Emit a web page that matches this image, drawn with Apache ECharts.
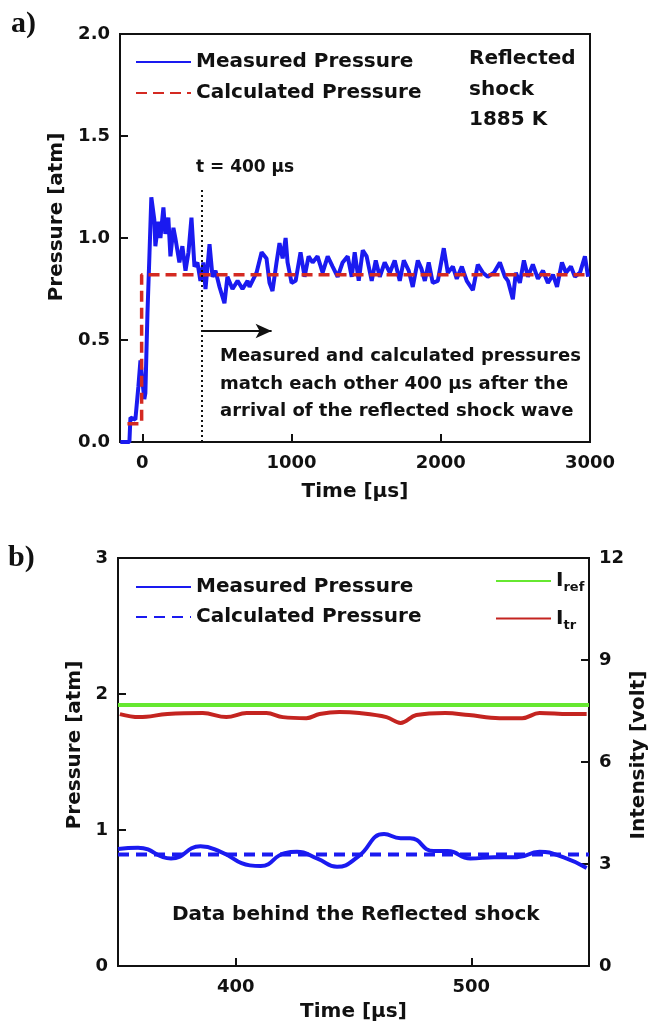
<!DOCTYPE html>
<html><head><meta charset="utf-8">
<script src="https://cdn.jsdelivr.net/npm/echarts@6/dist/echarts.min.js"></script>
<style>html,body{margin:0;padding:0;background:#fff}#c{width:651px;height:1030px}</style>
</head><body><div id="c"></div>
<script>
// ---------- Panel a) data ----------
const aTime = [-148,-87,-80,-47,-27,-13,0,13,20,34,47,60,80,87,107,121,141,154,174,188,208,221,248,268,289,309,329,349,369,389,409,423,450,470,490,517,550,570,604,638,671,705,718,765,799,832,852,872,899,919,940,960,973,1000,1027,1060,1087,1114,1141,1174,1208,1242,1275,1309,1342,1376,1403,1423,1450,1477,1503,1537,1564,1591,1624,1658,1691,1725,1752,1785,1812,1846,1870,1893,1919,1946,1980,2020,2047,2081,2107,2141,2174,2215,2248,2282,2315,2356,2396,2430,2450,2483,2503,2530,2557,2584,2617,2651,2685,2718,2752,2779,2812,2839,2872,2899,2933,2966,2987];
const aMeasured = [0.0,0.0,0.12,0.11,0.27,0.40,0.30,0.21,0.24,0.63,0.91,1.20,1.09,0.96,1.08,1.00,1.15,1.02,1.10,0.91,1.05,1.00,0.88,0.96,0.84,0.93,1.10,0.86,0.88,0.79,0.88,0.75,0.97,0.81,0.84,0.76,0.68,0.81,0.75,0.79,0.75,0.79,0.76,0.83,0.93,0.90,0.78,0.74,0.88,0.975,0.90,1.00,0.88,0.78,0.79,0.93,0.81,0.91,0.88,0.91,0.83,0.91,0.86,0.81,0.88,0.91,0.81,0.93,0.79,0.94,0.91,0.79,0.89,0.81,0.88,0.83,0.89,0.79,0.89,0.84,0.76,0.89,0.85,0.79,0.88,0.78,0.79,0.95,0.83,0.86,0.80,0.86,0.79,0.745,0.87,0.83,0.81,0.83,0.88,0.81,0.79,0.70,0.83,0.78,0.89,0.81,0.87,0.80,0.84,0.78,0.82,0.76,0.88,0.83,0.86,0.81,0.83,0.91,0.81];
const aCalcTime = [-100,-5,-5,3000];
const aCalc = [0.09,0.09,0.82,0.82];
const aXTicks = [0,1000,2000,3000];
const aMarkT = 400, aMarkTop = 1.245, aArrowEnd = 866, aArrowP = 0.544;

// ---------- Panel b) data ----------
const bTime = [350,358.5,372.5,385,393.6,406,410.6,420.8,426,434.7,443,451.7,463,470,474,484,490,499.6,509.7,519.5,529,539,549];
const bMeasured = [0.86,0.87,0.79,0.88,0.84,0.74,0.735,0.83,0.84,0.79,0.73,0.80,0.97,0.94,0.94,0.845,0.845,0.79,0.80,0.80,0.84,0.80,0.72];
const bCalcTime = [350,550];
const bCalc = [0.82,0.82];
const bRefTime = [350,550];
const bRef = [7.68,7.68];
const bTrTime = [350.8,359,371,386,396,404.7,413,420,430,435.6,444,452.5,464,470,476.7,489,499,512,521.6,529,541.5,549];
const bTr = [7.41,7.32,7.41,7.44,7.32,7.44,7.44,7.32,7.29,7.41,7.47,7.44,7.32,7.15,7.38,7.44,7.38,7.29,7.29,7.44,7.41,7.41];
const bXTicks = [400,500];

const zip = (t, v) => t.map((x, i) => [x, v[i]]);
const F = '"DejaVu Sans", Verdana, sans-serif';
const lab = {fontFamily: F, fontWeight: 'bold', fontSize: 18, color: '#111'};
const nm = {fontFamily: F, fontWeight: 'bold', fontSize: 20, color: '#111'};
const nmPad = p => Object.assign({padding: [0, 0, 0, p]}, nm);
const tick = {show: true, inside: true, length: 8, lineStyle: {color: '#111', width: 2}};
const noLine = {show: false, onZero: false};
const BLUE = '#1a1af0', RED = '#d42a22';

const chart = echarts.init(document.getElementById('c'), null, {renderer: 'canvas'});
chart.setOption({
  animation: false,
  backgroundColor: '#fff',
  grid: [
    {left: 120, top: 34, width: 470, height: 408, show: true, borderColor: '#111', borderWidth: 2, outerBoundsMode: 'none', containLabel: false},
    {left: 118, top: 558, width: 471, height: 408, show: true, borderColor: '#111', borderWidth: 2, outerBoundsMode: 'none', containLabel: false}
  ],
  xAxis: [
    {type: 'value', gridIndex: 0, min: -150, max: 3000,
     axisLine: noLine, splitLine: {show: false},
     axisTick: Object.assign({customValues: aXTicks}, tick),
     axisLabel: Object.assign({customValues: aXTicks, margin: 12, formatter: v => String(v)}, lab),
     name: 'Time [μs]', nameLocation: 'middle', nameGap: 40, nameTextStyle: nm},
    {type: 'value', gridIndex: 1, min: 350, max: 550,
     axisLine: noLine, splitLine: {show: false},
     axisTick: Object.assign({customValues: bXTicks}, tick),
     axisLabel: Object.assign({customValues: bXTicks, margin: 12, formatter: v => String(v)}, lab),
     name: 'Time [μs]', nameLocation: 'middle', nameGap: 36, nameTextStyle: nm}
  ],
  yAxis: [
    {type: 'value', gridIndex: 0, min: 0, max: 2, interval: 0.5,
     axisLine: noLine, splitLine: {show: false}, axisTick: tick,
     axisLabel: Object.assign({margin: 10, formatter: v => v.toFixed(1)}, lab),
     name: 'Pressure [atm]', nameLocation: 'middle', nameGap: 50, nameTextStyle: nmPad(42)},
    {type: 'value', gridIndex: 1, min: 0, max: 3, interval: 1,
     axisLine: noLine, splitLine: {show: false}, axisTick: tick,
     axisLabel: Object.assign({margin: 10}, lab),
     name: 'Pressure [atm]', nameLocation: 'middle', nameGap: 30, nameTextStyle: nmPad(34)},
    {type: 'value', gridIndex: 1, min: 0, max: 12, interval: 3, position: 'right',
     axisLine: noLine, splitLine: {show: false}, axisTick: tick,
     axisLabel: Object.assign({margin: 10}, lab),
     name: 'Intensity [volt]', nameLocation: 'middle', nameGap: 40, nameMoveOverlap: false, nameTextStyle: nmPad(14)}
  ],
  legend: [
    {orient: 'vertical', left: 130, top: 46, itemWidth: 55, itemHeight: 14, itemGap: 9,
     data: ['Measured Pressure', 'Calculated Pressure'], textStyle: Object.assign({lineHeight: 22}, nm),
     itemStyle: {opacity: 0}, selectedMode: false},
    {orient: 'vertical', left: 130, top: 571, itemWidth: 55, itemHeight: 14, itemGap: 8,
     data: ['Measured Pressure ', 'Calculated Pressure '], textStyle: Object.assign({lineHeight: 22}, nm),
     itemStyle: {opacity: 0}, selectedMode: false},
    {orient: 'vertical', left: 490, top: 564, itemWidth: 55, itemHeight: 14, itemGap: 12,
     data: ['Iref', 'Itr'], selectedMode: false, itemStyle: {opacity: 0},
     formatter: n => n === 'Iref' ? '{a|I}{s|ref}' : '{a|I}{s|tr}',
     textStyle: Object.assign({lineHeight: 24, rich: {
       a: {fontFamily: F, fontWeight: 'bold', fontSize: 20, color: '#111'},
       s: {fontFamily: F, fontWeight: 'bold', fontSize: 13, color: '#111', padding: [14, 0, 0, 0]}
     }}, nm)}
  ],
  series: [
    {name: 'Calculated Pressure', type: 'line', xAxisIndex: 0, yAxisIndex: 0,
     data: zip(aCalcTime, aCalc), symbol: 'none', color: RED,
     lineStyle: {color: RED, width: 3.5, type: [11, 6]}},
    {name: 'Measured Pressure', type: 'line', xAxisIndex: 0, yAxisIndex: 0,
     data: zip(aTime, aMeasured), symbol: 'none', color: BLUE, z: 1,
     lineStyle: {color: BLUE, width: 4},
     markLine: {silent: true, symbol: 'none', label: {show: false}, animation: false,
       data: [
         [{coord: [aMarkT, 0], lineStyle: {color: '#111', width: 2, type: [2, 3]}}, {coord: [aMarkT, aMarkTop]}],
         [{coord: [aMarkT, aArrowP], symbol: 'none', lineStyle: {color: '#111', width: 2, type: 'solid'}},
          {coord: [aArrowEnd, aArrowP], symbol: 'arrow', symbolSize: [11, 16]}]
       ]}},
    {name: 'Measured Pressure ', type: 'line', xAxisIndex: 1, yAxisIndex: 1,
     data: zip(bTime, bMeasured), symbol: 'none', smooth: 0.5, color: BLUE,
     lineStyle: {color: BLUE, width: 4}},
    {name: 'Calculated Pressure ', type: 'line', xAxisIndex: 1, yAxisIndex: 1,
     data: zip(bCalcTime, bCalc), symbol: 'none', color: BLUE,
     lineStyle: {color: BLUE, width: 4, type: [11, 7]}},
    {name: 'Iref', type: 'line', xAxisIndex: 1, yAxisIndex: 2,
     data: zip(bRefTime, bRef), symbol: 'none', color: '#66e830',
     lineStyle: {color: '#66e830', width: 4}},
    {name: 'Itr', type: 'line', xAxisIndex: 1, yAxisIndex: 2,
     data: zip(bTrTime, bTr), symbol: 'none', smooth: 0.4, color: '#c42420',
     lineStyle: {color: '#c42420', width: 4}}
  ],
  graphic: [
    {type: 'text', left: 11, top: 9, style: {text: 'a)', font: 'bold 30px "Liberation Serif", Times, serif', fill: '#111'}},
    {type: 'text', left: 8, top: 543, style: {text: 'b)', font: 'bold 30px "Liberation Serif", Times, serif', fill: '#111'}},
    {type: 'text', left: 469, top: 44, style: {text: 'Reflected\nshock\n1885 K', font: 'bold 20px ' + F, fill: '#111', lineHeight: 30.5}},
    {type: 'text', left: 196, top: 157, style: {text: 't = 400 μs', font: 'bold 17px ' + F, fill: '#111', lineHeight: 22}},
    {type: 'text', left: 220, top: 343, style: {text: 'Measured and calculated pressures\nmatch each other 400 μs after the\narrival of the reflected shock wave', font: 'bold 18px ' + F, fill: '#111', lineHeight: 27.5}},
    {type: 'text', left: 172, top: 903, style: {text: 'Data behind the Reflected shock', font: 'bold 20px ' + F, fill: '#111', lineHeight: 24}}
  ]
});
</script></body></html>
